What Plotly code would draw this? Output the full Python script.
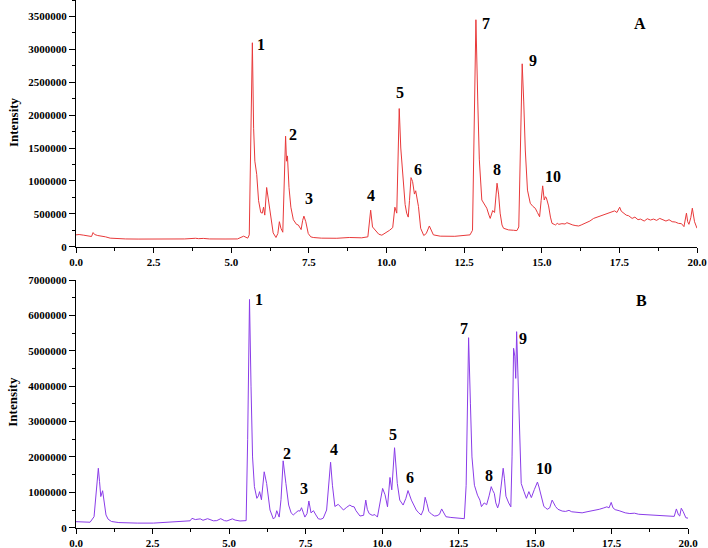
import plotly.graph_objects as go

# chromatogram A (red)
time_a = [0.00, 0.10, 0.25, 0.40, 0.50, 0.55, 0.60, 0.70, 0.85, 0.95, 1.10, 1.30, 1.60, 2.00, 2.50,
          3.00, 3.50, 3.85, 3.95, 4.10, 4.30, 4.80, 5.20, 5.40, 5.47, 5.53, 5.58, 5.63, 5.68, 5.72,
          5.76, 5.82, 5.88, 5.95, 6.00, 6.04, 6.08, 6.14, 6.20, 6.28, 6.35, 6.44, 6.50, 6.55, 6.60,
          6.66, 6.71, 6.75, 6.78, 6.81, 6.86, 6.92, 7.00, 7.10, 7.16, 7.20, 7.25, 7.30, 7.34, 7.40,
          7.48, 7.56, 7.64, 7.90, 8.40, 8.80, 9.20, 9.40, 9.49, 9.55, 9.63, 9.75, 9.85, 10.00, 10.10,
          10.20, 10.27, 10.33, 10.38, 10.41, 10.46, 10.54, 10.60, 10.65, 10.70, 10.74, 10.79, 10.84,
          10.90, 10.94, 11.03, 11.10, 11.20, 11.28, 11.38, 11.51, 11.73, 12.20, 12.69, 12.77, 12.83,
          12.88, 12.94, 12.99, 13.07, 13.15, 13.23, 13.30, 13.34, 13.42, 13.48, 13.56, 13.61, 13.66,
          13.72, 13.77, 13.93, 14.09, 14.20, 14.26, 14.32, 14.37, 14.42, 14.47, 14.54, 14.63, 14.72,
          14.79, 14.86, 14.93, 14.98, 15.03, 15.08, 15.12, 15.15, 15.22, 15.28, 15.33, 15.40, 15.44,
          15.50, 15.55, 15.65, 15.75, 15.81, 15.90, 16.00, 16.10, 16.19, 16.27, 16.35, 16.45, 16.55,
          16.67, 16.78, 16.90, 16.99, 17.10, 17.20, 17.26, 17.35, 17.42, 17.51, 17.56, 17.64, 17.72,
          17.80, 17.91, 18.00, 18.10, 18.18, 18.30, 18.40, 18.50, 18.60, 18.70, 18.80, 18.93, 19.00,
          19.10, 19.20, 19.30, 19.40, 19.50, 19.58, 19.66, 19.70, 19.74, 19.80, 19.85, 19.92, 20.00]
int_a = [180000, 185000, 175000, 160000, 155000, 215000, 185000, 170000, 160000, 150000, 130000,
         122000, 118000, 116000, 115000, 116000, 118000, 128000, 122000, 126000, 118000, 117000,
         118000, 160000, 145000, 130000, 180000, 1500000, 3100000, 1800000, 1300000, 1100000,
         700000, 520000, 510000, 600000, 480000, 900000, 700000, 400000, 210000, 140000, 200000,
         380000, 280000, 220000, 900000, 1680000, 1300000, 1380000, 900000, 600000, 410000, 340000,
         330000, 300000, 260000, 400000, 465000, 380000, 200000, 150000, 140000, 130000, 128000,
         140000, 135000, 150000, 555000, 300000, 255000, 190000, 175000, 215000, 250000, 290000,
         600000, 510000, 1300000, 2100000, 1500000, 910000, 640000, 510000, 450000, 700000,
         1050000, 990000, 800000, 850000, 610000, 280000, 170000, 200000, 315000, 180000, 160000,
         158000, 180000, 250000, 2000000, 3450000, 2200000, 1320000, 710000, 650000, 585000,
         480000, 430000, 550000, 520000, 965000, 800000, 510000, 330000, 280000, 255000, 250000,
         245000, 300000, 1800000, 2780000, 2200000, 1470000, 860000, 660000, 610000, 585000,
         520000, 455000, 700000, 925000, 710000, 760000, 740000, 620000, 450000, 355000, 340000,
         330000, 355000, 340000, 350000, 345000, 365000, 345000, 330000, 320000, 315000, 330000,
         345000, 370000, 390000, 430000, 450000, 470000, 490000, 505000, 520000, 535000, 545000,
         520000, 600000, 540000, 510000, 480000, 470000, 430000, 450000, 410000, 420000, 390000,
         425000, 405000, 420000, 400000, 430000, 405000, 390000, 410000, 380000, 375000, 355000,
         350000, 305000, 510000, 380000, 340000, 440000, 585000, 380000, 280000]

# chromatogram B (purple)
time_b = [0.00, 0.20, 0.46, 0.59, 0.66, 0.73, 0.77, 0.81, 0.87, 0.92, 0.98, 1.05, 1.16, 1.40, 1.66,
          2.00, 2.53, 3.00, 3.40, 3.73, 3.79, 3.90, 4.06, 4.15, 4.30, 4.49, 4.60, 4.73, 4.85, 4.93,
          5.11, 5.20, 5.36, 5.50, 5.56, 5.61, 5.67, 5.72, 5.77, 5.83, 5.91, 5.96, 6.00, 6.06, 6.10,
          6.15, 6.23, 6.34, 6.45, 6.51, 6.56, 6.64, 6.70, 6.77, 6.86, 6.95, 7.03, 7.10, 7.18, 7.26,
          7.32, 7.37, 7.43, 7.48, 7.55, 7.61, 7.68, 7.76, 7.84, 7.92, 8.00, 8.08, 8.19, 8.26, 8.32,
          8.38, 8.46, 8.57, 8.66, 8.74, 8.85, 8.95, 9.02, 9.09, 9.15, 9.28, 9.40, 9.47, 9.52, 9.58,
          9.68, 9.77, 9.85, 9.94, 10.02, 10.10, 10.18, 10.26, 10.32, 10.41, 10.46, 10.50, 10.58,
          10.69, 10.78, 10.85, 10.96, 11.05, 11.12, 11.20, 11.28, 11.35, 11.41, 11.47, 11.53, 11.62,
          11.72, 11.80, 11.88, 11.95, 12.02, 12.09, 12.25, 12.42, 12.60, 12.69, 12.75, 12.83, 12.89,
          12.94, 13.02, 13.12, 13.20, 13.25, 13.34, 13.42, 13.50, 13.57, 13.62, 13.67, 13.72, 13.78,
          13.83, 13.90, 13.96, 14.00, 14.05, 14.14, 14.21, 14.25, 14.30, 14.34, 14.37, 14.40, 14.44,
          14.48, 14.55, 14.64, 14.72, 14.80, 14.88, 14.98, 15.04, 15.08, 15.13, 15.18, 15.25, 15.29,
          15.35, 15.40, 15.48, 15.56, 15.61, 15.67, 15.75, 15.89, 16.00, 16.11, 16.20, 16.35, 16.54,
          16.70, 16.85, 16.97, 17.10, 17.25, 17.35, 17.42, 17.49, 17.55, 17.62, 17.75, 17.85, 17.95,
          18.10, 18.25, 18.39, 18.55, 18.70, 18.93, 19.10, 19.30, 19.48, 19.55, 19.62, 19.69, 19.73,
          19.78, 19.84, 19.93, 20.00]
int_b = [170000, 165000, 155000, 310000, 900000, 1680000, 1300000, 880000, 1045000, 700000, 360000,
         240000, 175000, 145000, 133000, 130000, 130000, 150000, 185000, 195000, 265000, 230000,
         250000, 210000, 255000, 195000, 200000, 255000, 200000, 190000, 250000, 215000, 190000,
         200000, 200000, 2500000, 6450000, 4000000, 2000000, 1160000, 830000, 900000, 1020000,
         790000, 1100000, 1580000, 1250000, 500000, 245000, 300000, 480000, 300000, 800000,
         1890000, 1250000, 640000, 420000, 360000, 420000, 480000, 470000, 565000, 420000, 300000,
         400000, 755000, 420000, 480000, 360000, 250000, 240000, 270000, 500000, 1300000, 1850000,
         1200000, 600000, 660000, 560000, 500000, 580000, 640000, 600000, 590000, 480000, 330000,
         350000, 780000, 520000, 400000, 350000, 370000, 300000, 700000, 1110000, 930000, 590000,
         1420000, 1070000, 2260000, 1800000, 1250000, 780000, 640000, 830000, 1050000, 780000,
         620000, 500000, 420000, 360000, 500000, 860000, 680000, 460000, 380000, 330000, 340000,
         380000, 530000, 420000, 310000, 290000, 280000, 260000, 255000, 1200000, 5370000, 3500000,
         2000000, 1200000, 920000, 780000, 595000, 700000, 650000, 900000, 1160000, 1050000, 970000,
         700000, 560000, 700000, 1200000, 1680000, 1400000, 890000, 700000, 590000, 2000000,
         5070000, 4850000, 4220000, 5540000, 4400000, 3330000, 1250000, 1020000, 830000, 1020000,
         850000, 1080000, 1180000, 1290000, 1150000, 950000, 700000, 600000, 560000, 520000, 560000,
         780000, 700000, 600000, 520000, 470000, 460000, 490000, 450000, 430000, 420000, 450000,
         470000, 500000, 520000, 560000, 590000, 560000, 715000, 560000, 510000, 480000, 450000,
         420000, 400000, 410000, 380000, 370000, 380000, 360000, 340000, 330000, 315000, 320000,
         530000, 360000, 330000, 550000, 460000, 280000, 270000]

peak_labels = ["1", "2", "3", "4", "5", "6", "7", "8", "9", "10"]
label_x_a = [5.96, 7.0, 7.51, 9.49, 10.43, 11.03, 13.2, 13.55, 14.71, 15.37]
label_y_a = [3070000, 1700000, 726000, 776000, 2343000, 1178000, 3389000, 1178000, 2830000, 1065000]
label_x_b = [5.99, 6.88, 7.45, 8.44, 10.35, 10.92, 12.69, 13.5, 14.62, 15.29]
label_y_b = [6455000, 2103000, 1094000, 2196000, 2648000, 1413000, 5635000, 1470000, 5352000, 1687000]

serif = "Liberation Serif"

fig = go.Figure()
fig.add_trace(go.Scatter(x=time_a, y=int_a, mode="lines", line=dict(color="#e8393a", width=1),
                         xaxis="x", yaxis="y", showlegend=False))
fig.add_trace(go.Scatter(x=time_b, y=int_b, mode="lines", line=dict(color="#8a3ce8", width=1),
                         xaxis="x2", yaxis="y2", showlegend=False))

tickfont = dict(family=serif, size=11, color="black", weight="bold")
xcommon = dict(range=[0, 20], dtick=2.5, tick0=0, tickformat=".1f", showgrid=False, zeroline=False,
               showline=True, linecolor="black", linewidth=1, ticks="outside", ticklen=5,
               tickcolor="black", tickfont=tickfont, automargin=False,
               minor=dict(ticks="outside", ticklen=3, dtick=1.25, tickcolor="black"))
ycommon = dict(tickformat="d", showgrid=False, zeroline=False, showline=True, linecolor="black",
               linewidth=1, ticks="outside", ticklen=6, tickcolor="black", tickfont=tickfont,
               automargin=False)

fig.update_layout(
    width=708, height=548, autosize=False,
    margin=dict(l=0, r=0, t=0, b=0, pad=0),
    paper_bgcolor="white", plot_bgcolor="white",
    xaxis=dict(xcommon, domain=[76 / 708, 697 / 708], anchor="y"),
    yaxis=dict(ycommon, domain=[1 - 246.7 / 548, 1], range=[0, 3750000], dtick=500000,
               minor=dict(ticks="outside", ticklen=3, dtick=250000, tickcolor="black"), anchor="x"),
    xaxis2=dict(xcommon, domain=[76 / 708, 688 / 708], anchor="y2"),
    yaxis2=dict(ycommon, domain=[1 - 527.7 / 548, 1 - 280 / 548], range=[0, 7000000], dtick=1000000,
                minor=dict(ticks="outside", ticklen=3, dtick=500000, tickcolor="black"), anchor="x2"),
)

ann = []
for lab, x, y in zip(peak_labels, label_x_a, label_y_a):
    ann.append(dict(x=x, y=y, xref="x", yref="y", text=lab, showarrow=False,
                    font=dict(family=serif, size=16, color="black", weight="bold")))
for lab, x, y in zip(peak_labels, label_x_b, label_y_b):
    ann.append(dict(x=x, y=y, xref="x2", yref="y2", text=lab, showarrow=False,
                    font=dict(family=serif, size=16, color="black", weight="bold")))
ann.append(dict(x=18.16, y=3389000, xref="x", yref="y", text="A", showarrow=False,
                font=dict(family=serif, size=16, color="black", weight="bold")))
ann.append(dict(x=18.49, y=6415000, xref="x2", yref="y2", text="B", showarrow=False,
                font=dict(family=serif, size=16, color="black", weight="bold")))
for yy in [1 - 122 / 548, 1 - 401.7 / 548]:
    ann.append(dict(x=13 / 708, y=yy, xref="paper", yref="paper", text="Intensity", textangle=-90,
                    xanchor="center", yanchor="middle", showarrow=False,
                    font=dict(family=serif, size=13, color="black", weight="bold")))
fig.update_layout(annotations=ann)

# drop the default 8px page margin so the figure sits at the window's corner
fig.write_html("out.html", config={"responsive": False, "displayModeBar": False},
               post_script="document.body.style.margin='0';document.body.style.overflow='hidden';")
